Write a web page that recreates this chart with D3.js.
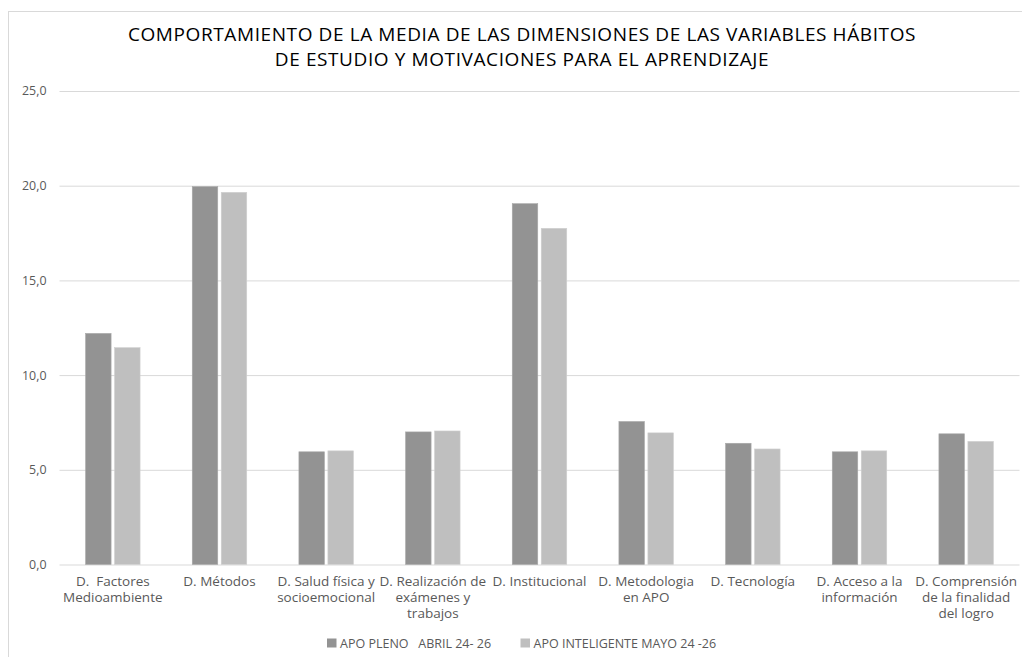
<!DOCTYPE html>
<html>
<head>
<meta charset="utf-8">
<script src="https://cdn.jsdelivr.net/npm/d3@7"></script>
<style>
  body { margin: 0; background: #fff; }
  svg { display: block; }
</style>
</head>
<body>
<svg id="chart"></svg>
<script>
// Data
var categories = [
    ["D.  Factores", "Medioambiente"],
    ["D. Métodos"],
    ["D. Salud física y", "socioemocional"],
    ["D. Realización de", "exámenes y", "trabajos"],
    ["D. Institucional"],
    ["D. Metodologia", "en APO"],
    ["D. Tecnología"],
    ["D. Acceso a la", "información"],
    ["D. Comprensión", "de la finalidad", "del logro"]
];
var seriesNames = ["APO PLENO   ABRIL 24- 26", "APO INTELIGENTE MAYO 24 -26"];
var pleno = [12.2, 19.95, 5.95, 7.0, 19.05, 7.55, 6.4, 5.95, 6.9];
var inteligente = [11.45, 19.65, 6.0, 7.05, 17.75, 6.95, 6.1, 6.0, 6.5];
var yTicks = [0, 5, 10, 15, 20, 25];
var titleLines = [
    "COMPORTAMIENTO DE LA MEDIA DE LAS DIMENSIONES DE LAS VARIABLES HÁBITOS",
    "DE ESTUDIO Y MOTIVACIONES PARA EL APRENDIZAJE"
];

var width = 1022, height = 657;
var margin = { left: 59.5, right: 1019.5, top: 91, bottom: 564.5 };
var colors = ["#939393", "#bfbfbf"];
var font = "'Open Sans', sans-serif";

var svg = d3.select("#chart").attr("width", width).attr("height", height);

// chart border (runs off the right and bottom edges)
svg.append("rect")
    .attr("x", 8.5).attr("y", 11.5)
    .attr("width", 1040).attr("height", 670)
    .attr("fill", "#fff").attr("stroke", "#d9d9d9");

// Title
svg.append("g").selectAll("text")
    .data(titleLines)
    .enter().append("text")
    .attr("x", 522)
    .attr("y", function (d, i) { return 41 + i * 24.5; })
    .attr("text-anchor", "middle")
    .style("font-family", font)
    .style("font-size", "19px")
    .style("letter-spacing", "0.6px")
    .attr("fill", "#000")
    .text(function (d) { return d; });

// Scales
var x0 = d3.scaleBand()
    .domain(d3.range(categories.length))
    .range([margin.left, margin.right]);

var x1 = d3.scaleBand()
    .domain([0, 1])
    .range([0, 54.5])
    .paddingInner(0.12);

var y = d3.scaleLinear()
    .domain([0, 25])
    .range([margin.bottom, margin.top]);

// Gridlines + y labels
var yAxis = d3.axisLeft(y)
    .tickValues(yTicks)
    .tickSize(-(margin.right - margin.left))
    .tickPadding(13)
    .tickFormat(function (d) { return d3.format(".1f")(d).replace(".", ","); });

var yg = svg.append("g")
    .attr("transform", "translate(" + margin.left + ",0)")
    .call(yAxis);
yg.select(".domain").remove();
yg.selectAll(".tick line").attr("stroke", "#d9d9d9");
yg.selectAll(".tick text")
    .attr("fill", "#595959")
    .style("font-family", font)
    .style("font-size", "12.4px");

// Bars
var rows = categories.map(function (c, i) { return [pleno[i], inteligente[i]]; });

var groups = svg.append("g").selectAll("g")
    .data(rows)
    .enter().append("g")
    .attr("transform", function (d, i) {
        return "translate(" + (x0(i) + (x0.bandwidth() - 54.5) / 2) + ",0)";
    });

groups.selectAll("rect")
    .data(function (d) { return d; })
    .enter().append("rect")
    .attr("x", function (d, j) { return x1(j); })
    .attr("y", function (d) { return y(d); })
    .attr("width", x1.bandwidth())
    .attr("height", function (d) { return y(0) - y(d); })
    .attr("fill", function (d, j) { return colors[j]; })
    .attr("stroke", function (d, j) { return j ? "#d0d0d0" : "#a8a8a8"; })
    .attr("stroke-width", 0.6);

// Category labels
var xl = svg.append("g").selectAll("text")
    .data(categories)
    .enter().append("text")
    .attr("x", function (d, i) { return x0(i) + x0.bandwidth() / 2; })
    .attr("y", 586)
    .attr("text-anchor", "middle")
    .attr("fill", "#595959")
    .style("font-family", font)
    .style("font-size", "13.5px")
    .style("white-space", "pre");

xl.selectAll("tspan")
    .data(function (d) { return d; })
    .enter().append("tspan")
    .attr("x", function () { return d3.select(this.parentNode).attr("x"); })
    .attr("dy", function (d, i) { return i ? 16.2 : 0; })
    .text(function (d) { return d; });

// Legend
var legendX = [327, 520.5];
var legend = svg.append("g").selectAll("g")
    .data(seriesNames)
    .enter().append("g")
    .attr("transform", function (d, i) { return "translate(" + legendX[i] + ",643)"; });

legend.append("rect")
    .attr("x", 0).attr("y", -4.5)
    .attr("width", 9.5).attr("height", 9)
    .attr("fill", function (d, i) { return colors[i]; });

legend.append("text")
    .attr("x", 13)
    .attr("y", 4.5)
    .attr("fill", "#595959")
    .style("font-family", font)
    .style("font-size", "12.5px")
    .style("white-space", "pre")
    .text(function (d) { return d; });
</script>
</body>
</html>
